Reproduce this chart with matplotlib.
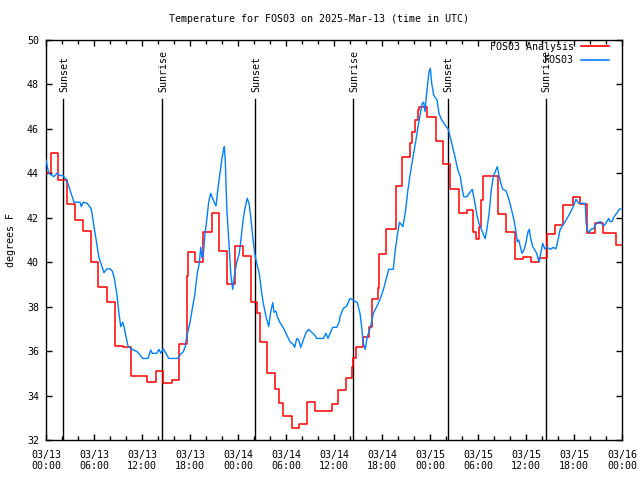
import matplotlib
matplotlib.use("Agg")
import matplotlib.pyplot as plt
from matplotlib.ticker import FixedLocator, MultipleLocator

# ---------------- data (hours since 2025-03-13 00:00 UTC, degrees F) ----------------
analysis_t = [0.0, 0.59, 1.5, 2.66, 3.59, 4.66, 5.66, 6.54, 7.66, 8.59, 9.66, 10.66,
              12.59, 13.71, 14.62, 15.71, 16.62, 17.66, 17.79, 18.59, 19.66, 20.75,
              21.66, 22.59, 23.59, 24.66, 25.59, 26.41, 26.75, 27.59, 28.62, 29.16,
              29.59, 30.71, 31.66, 32.66, 33.62, 35.71, 36.54, 37.5, 38.21, 38.41,
              38.71, 39.62, 40.41, 40.69, 41.46, 41.62, 42.56, 43.69, 44.56, 45.5,
              45.79, 46.12, 46.46, 46.62, 47.59, 48.71, 49.66, 50.5, 51.62, 52.59,
              53.41, 53.71, 54.12, 54.34, 54.59, 56.54, 57.56, 58.62, 59.59, 60.59,
              61.59, 62.59, 63.62, 64.66, 65.91, 66.75, 67.66, 68.62, 69.66, 71.31, 72.0]
analysis_v = [44.0, 44.9, 43.7, 42.6, 41.9, 41.4, 40.0, 38.9, 38.2, 36.25, 36.2, 34.9,
              34.6, 35.1, 34.55, 34.7, 36.3, 39.4, 40.45, 40.0, 41.35, 42.2,
              40.5, 39.0, 40.75, 40.28, 38.2, 37.73, 36.42, 35.0, 34.3, 33.65,
              33.1, 32.56, 32.7, 33.7, 33.3, 33.62, 34.25, 34.8, 35.3, 35.67,
              36.17, 36.65, 37.07, 38.33, 38.82, 40.35, 41.5, 43.43, 44.75, 45.35,
              45.87, 46.4, 46.85, 47.0, 46.52, 45.47, 44.4, 43.3, 42.2, 42.35,
              41.37, 41.03, 41.6, 42.8, 43.88, 42.17, 41.35, 40.13, 40.25, 40.02,
              40.17, 41.25, 41.67, 42.57, 42.92, 42.62, 41.3, 41.75, 41.3, 40.77, 40.77]

obs_t = [0.0, 0.34, 1.0, 1.34, 1.75, 2.12, 2.59, 3.0, 3.5, 4.25, 4.41, 4.66, 5.16, 5.66,
         6.0, 6.34, 6.62, 6.91, 7.25, 7.59, 8.0, 8.29, 8.5, 8.84, 9.12, 9.34, 9.59, 9.75,
         10.0, 10.25, 10.66, 11.41, 12.09, 12.75, 13.09, 13.29, 13.84, 14.12, 14.34, 14.66,
         15.0, 15.34, 16.5, 16.84, 17.16, 17.41, 17.59, 17.75, 18.0, 18.34, 18.62, 18.91,
         19.16, 19.34, 19.5, 19.66, 19.84, 20.09, 20.34, 20.59, 20.91, 21.25, 21.5, 21.75,
         22.0, 22.16, 22.29, 22.41, 22.59, 22.84, 23.09, 23.34, 23.59, 23.84, 24.16, 24.41,
         24.66, 24.91, 25.16, 25.41, 25.59, 25.84, 26.09, 26.34, 26.66, 26.91, 27.16, 27.5,
         27.84, 28.09, 28.34, 28.5, 28.75, 28.91, 29.25, 29.75, 30.09, 30.5, 30.91, 31.09,
         31.34, 31.59, 31.84, 32.16, 32.5, 32.84, 33.25, 33.5, 33.84, 34.66, 35.0, 35.25,
         35.5, 35.84, 36.34, 36.66, 36.75, 37.16, 37.59, 38.0, 38.41, 38.91, 39.25, 39.5,
         39.66, 39.91, 40.16, 40.41, 40.66, 40.91, 41.34, 41.75, 42.16, 42.59, 42.84, 43.41,
         43.66, 43.91, 44.19, 44.62, 44.96, 45.21, 45.54, 45.88, 46.21, 46.54, 46.79, 47.04,
         47.21, 47.38, 47.54, 47.71, 47.88, 48.04, 48.21, 48.46, 48.88, 49.12, 49.46, 49.88,
         50.29, 50.71, 51.12, 51.46, 51.79, 52.04, 52.21, 52.62, 52.96, 53.29, 53.62, 53.88,
         54.12, 54.46, 54.79, 54.91, 55.16, 55.41, 55.66, 55.91, 56.16, 56.41, 56.66, 56.91,
         57.09, 57.5, 57.75, 58.0, 58.25, 58.5, 58.75, 58.91, 59.09, 59.25, 59.5, 59.75,
         60.0, 60.25, 60.41, 60.59, 60.84, 61.09, 61.34, 61.5, 61.66, 61.84, 62.09, 62.34,
         62.59, 63.09, 63.41, 63.75, 64.0, 64.25, 64.59, 64.91, 65.25, 65.59, 65.91, 66.25,
         66.59, 67.41, 67.5, 67.66, 67.84, 68.09, 68.41, 68.66, 68.91, 69.34, 69.59, 69.84,
         70.09, 70.34, 70.5, 70.75, 71.0, 71.34, 71.66, 71.88]
obs_v = [44.6, 44.0, 43.85, 44.0, 43.9, 43.9, 43.7, 43.25, 42.7, 42.7, 42.5, 42.7, 42.65, 42.4,
         41.6, 40.85, 40.2, 39.9, 39.53, 39.7, 39.7, 39.6, 39.35, 38.6, 37.7, 37.1, 37.3, 37.1,
         36.65, 36.23, 36.1, 35.97, 35.67, 35.67, 36.05, 35.9, 35.9, 36.08, 35.9, 36.1,
         35.9, 35.67, 35.67, 35.87, 35.97, 36.2, 36.7, 36.9, 37.3, 38.0, 38.6, 39.5,
         39.95, 40.67, 40.2, 40.3, 41.15, 41.9, 42.72, 43.1, 42.8, 42.53, 43.33, 44.0,
         44.68, 45.0, 45.2, 44.6, 42.5, 41.0, 39.5, 38.78, 39.5, 40.0, 40.4, 41.15,
         41.97, 42.5, 42.88, 42.6, 42.05, 41.15, 40.4, 39.95, 39.5, 38.75, 38.15, 37.55,
         37.1, 37.77, 38.18, 37.75, 37.8, 37.55, 37.28, 37.0, 36.73, 36.42, 36.3, 36.17,
         36.57, 36.5, 36.17, 36.5, 36.83, 36.98, 36.83, 36.77, 36.57, 36.57, 36.8, 36.57,
         36.8, 37.07, 37.07, 37.32, 37.55, 37.92, 38.03, 38.37, 38.3, 38.18, 37.7, 36.95,
         36.35, 36.08, 36.65, 36.9, 37.25, 37.7, 38.0, 38.33, 38.75, 39.35, 39.68, 39.68,
         40.55, 41.2, 41.8, 41.6, 42.35, 43.17, 44.0, 44.75, 45.42, 46.18, 46.7, 47.15,
         47.2, 46.78, 47.45, 48.05, 48.57, 48.73, 48.05, 47.52, 47.3, 46.7, 46.4, 46.18,
         45.98, 45.35, 44.75, 44.18, 43.85, 43.25, 42.95, 42.95, 43.13, 43.28, 42.65, 42.08,
         41.75, 41.45, 41.15, 41.07, 41.6, 42.27, 43.25, 43.85, 44.07, 44.3, 43.85, 43.48,
         43.28, 43.22, 42.95, 42.65, 42.27, 41.9, 41.37, 40.92, 41.0, 40.77, 40.4, 40.55,
         40.9, 41.37, 41.48, 41.07, 40.7, 40.55, 40.4, 40.17, 40.02, 40.4, 40.85, 40.6,
         40.67, 40.58, 40.67, 40.6, 41.0, 41.45, 41.67, 41.83, 42.05, 42.27, 42.5, 42.83,
         42.65, 42.65, 41.83, 41.45, 41.33, 41.48, 41.5, 41.67, 41.78, 41.83, 41.67, 41.67,
         41.83, 41.97, 41.83, 41.83, 42.05, 42.2, 42.38, 42.4]

sun_t = [2.17, 14.53, 26.17, 38.42, 50.2, 62.44]
sun_labels = ["Sunset", "Sunrise", "Sunset", "Sunrise", "Sunset", "Sunrise"]

xtick_pos = [0, 6, 12, 18, 24, 30, 36, 42, 48, 54, 60, 66, 72]
xtick_labels = ["03/13\n00:00", "03/13\n06:00", "03/13\n12:00", "03/13\n18:00",
                "03/14\n00:00", "03/14\n06:00", "03/14\n12:00", "03/14\n18:00",
                "03/15\n00:00", "03/15\n06:00", "03/15\n12:00", "03/15\n18:00",
                "03/16\n00:00"]
ytick_pos = [32, 34, 36, 38, 40, 42, 44, 46, 48, 50]

# ---------------- style ----------------
FONT = "DejaVu Sans Mono"
FS = 7.2
plt.rcParams["font.family"] = FONT
plt.rcParams["font.size"] = FS

fig = plt.figure(figsize=(6.4, 4.8), dpi=100)
ax = fig.add_axes([46 / 640, 1 - 440 / 480, 576 / 640, 400 / 480])

ax.step(analysis_t, analysis_v, where="post", color="#ff0000", lw=1.1,
        label="FOS03 Analysis", zorder=3)
ax.plot(obs_t, obs_v, color="#0080ff", lw=1.0, label="FOS03", zorder=4)

for t, lab in zip(sun_t, sun_labels):
    ax.plot([t, t], [32, 47.33], color="black", lw=1.0, zorder=2)
    ax.text(t + 0.15, 47.65, lab, rotation=90, ha="center", va="bottom",
            fontsize=FS, zorder=5)

ax.set_xlim(0, 72)
ax.set_ylim(32, 50)
ax.xaxis.set_major_locator(FixedLocator(xtick_pos))
ax.set_xticklabels(xtick_labels)
ax.xaxis.set_minor_locator(MultipleLocator(2))
ax.yaxis.set_major_locator(FixedLocator(ytick_pos))
ax.set_yticklabels([str(v) for v in ytick_pos])

ax.tick_params(which="both", direction="in", top=True, right=True, width=1.0,
               colors="black", labelsize=FS)
ax.tick_params(which="major", length=4.5, pad=5)
ax.tick_params(which="minor", length=3)
ax.tick_params(axis="x", which="major", pad=7)
for s in ax.spines.values():
    s.set_linewidth(1.0)
    s.set_color("black")

ax.set_ylabel("degrees F", fontsize=FS, labelpad=8)
fig.text(0.498, 1 - 19 / 480, "Temperature for FOS03 on 2025-Mar-13 (time in UTC)",
         ha="center", va="center", fontsize=FS)

leg = ax.legend(loc="upper right", bbox_to_anchor=((609 - 46) / 576, (440 - 42) / 400),
                frameon=False, markerfirst=False, borderaxespad=0, borderpad=0,
                handlelength=2.8, handletextpad=0.7, labelspacing=0.35, fontsize=FS)
for line in leg.get_lines():
    line.set_linewidth(1.2)

fig.savefig("out.png", dpi=100)
